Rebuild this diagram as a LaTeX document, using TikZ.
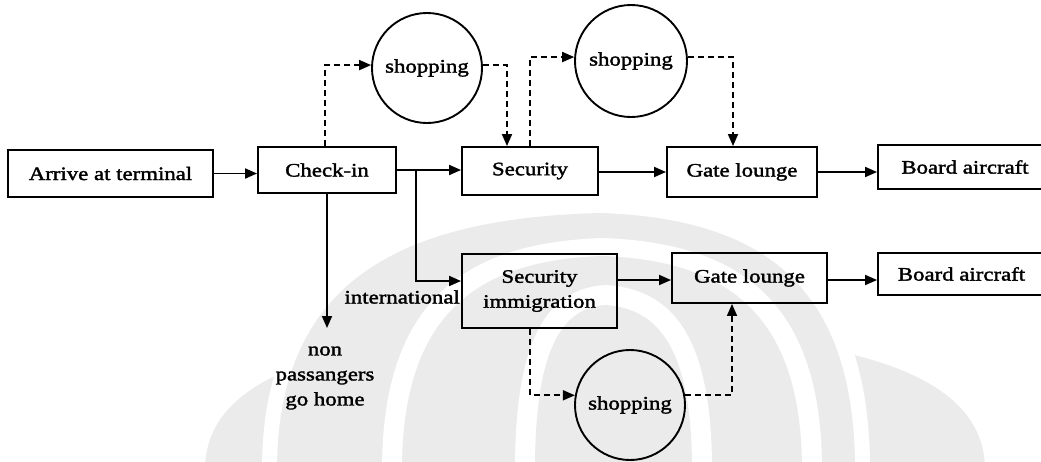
\documentclass[tikz,border=0pt]{standalone}
\usepackage{fontspec}
\setmainfont{Liberation Serif}[FakeStretch=1.2,FakeBold=1.8]
\usetikzlibrary{arrows.meta}
\newcommand{\stagefont}{\fontsize{19}{25}\selectfont}
% pointed arch from base xL..xR (at the bottom edge) up to apex (xc,yt)
\newcommand{\ogive}[4]{%
  ({#1},470) .. controls ({#1},{#4+0.25*(470-#4)}) and ({#3-0.6*(#3-#1)},{#4+0.02*(470-#4)}) ..
  ({#3},{#4}) .. controls ({#3+0.6*(#2-#3)},{#4+0.02*(470-#4)}) and ({#2},{#4+0.25*(470-#4)}) ..
  ({#2},470) -- cycle}
\colorlet{markcolor}{black!8}
\begin{document}
\begin{tikzpicture}[x=1pt,y=-1pt,
  stagebox/.style={draw, line width=1.9pt, inner sep=0pt, font=\stagefont, align=center},
  shopcircle/.style={draw, circle, line width=1.9pt, inner sep=0pt, minimum size=110pt, font=\stagefont},
  plainlabel/.style={inner sep=1pt, font=\stagefont, align=center},
  flow/.style={line width=1.8pt, -{Triangle[length=12pt,width=10pt]}},
  sidetrip/.style={flow, dash pattern=on 6pt off 4pt}]

\fill[white] (0,0) rectangle (1041,461);
\useasboundingbox (0,0) rectangle (1041,461);

% faint emblem behind the chart
\begin{scope}
  \clip (0,0) rectangle (1041,461);
  \fill[markcolor] \ogive{205}{985}{595}{330};
  \fill[white]     \ogive{262}{870}{600}{200};
  \fill[markcolor] \ogive{277}{855}{600}{213};
  \fill[white]     \ogive{382}{822}{602}{238};
  \fill[markcolor] \ogive{402}{802}{602}{256};
  \fill[white]     \ogive{515}{712}{605}{285};
  \fill[markcolor] \ogive{535}{692}{605}{305};
\end{scope}

% main (domestic) line
\node[stagebox, minimum width=205pt, minimum height=47pt] (arrive)   at (110.5,173.5) {Arrive at terminal};
\node[stagebox, minimum width=138pt, minimum height=46pt] (checkin)  at (327,170)     {Check-in};
\node[stagebox, minimum width=136pt, minimum height=48pt] (security) at (530,171)     {Security};
\node[stagebox, minimum width=150pt, minimum height=50pt] (gateA)    at (742,172)     {Gate lounge};
\node[stagebox, minimum width=174pt, minimum height=44pt] (boardA)   at (965,167)     {Board aircraft};

% international line
\node[stagebox, minimum width=155pt, minimum height=74pt] (secimm)   at (539.5,291)   {Security\\immigration};
\node[stagebox, minimum width=155pt, minimum height=50pt] (gateB)    at (749.5,278)   {Gate lounge};
\node[stagebox, minimum width=167pt, minimum height=42pt] (boardB)   at (961.5,274)   {Board aircraft};

% optional shopping stops
\node[shopcircle] (shopA) at (427,68)  {shopping};
\node[shopcircle, minimum size=112pt] (shopB) at (631,61) {shopping};
\node[shopcircle] (shopC) at (630,405) {shopping};

% side labels
\node[plainlabel, anchor=east] (intl) at (461,297) {international};
\node[plainlabel] (gohome) at (325,378) {non\\passangers\\go home};
\coordinate (homeend) at (327,328);

% solid flow
\draw[flow] (arrive.east) -- (arrive.east -| checkin.west);
\draw[flow] (checkin.east) -- (checkin.east -| security.west);
\draw[flow] ([xshift=19pt]checkin.east) |- ([yshift=10pt]secimm.west);
\draw[flow] (checkin.south) -- (homeend);
\draw[flow] ([yshift=-1pt]security.east) -- ([yshift=-1pt]security.east -| gateA.west);
\draw[flow] (gateA.east) -- (gateA.east -| boardA.west);
\draw[flow] ([yshift=11pt]secimm.east) -- ([yshift=11pt]secimm.east -| gateB.west);
\draw[flow] ([yshift=-2pt]gateB.east) -- ([yshift=-2pt]gateB.east -| boardB.west);

% dashed detours through shopping
\draw[sidetrip] ([xshift=-2pt]checkin.north) |- (shopA.177);
\draw[sidetrip] (shopA.3) -| ([xshift=-23pt]security.north);
\draw[sidetrip] (security.north) |- (shopB.176);
\draw[sidetrip] (shopB.4) -| ([xshift=-9pt]gateA.north);
\draw[sidetrip] ([xshift=-9.5pt]secimm.south) |- (shopC.170);
\draw[sidetrip] (shopC.10) -| ([xshift=-17.5pt]gateB.south);
\end{tikzpicture}
\end{document}
